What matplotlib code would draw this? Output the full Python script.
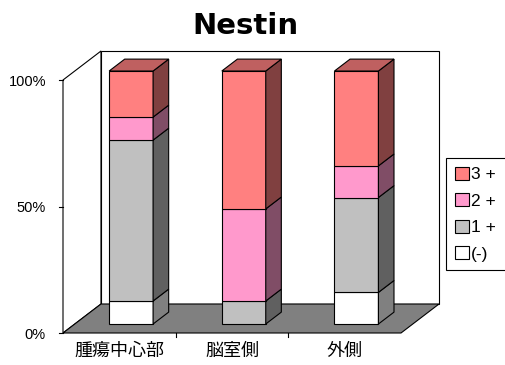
import matplotlib
matplotlib.use("Agg")
import matplotlib.pyplot as plt
from matplotlib.patches import Polygon, Patch
from matplotlib.colors import to_rgb

# ---------------- data ----------------
categories = ["腫瘍中心部", "脳室側", "外側"]
series_labels = ["(-)", "1 +", "2 +", "3 +"]
neg = [9.1, 0.0, 12.5]
plus1 = [63.6, 9.1, 37.5]
plus2 = [9.1, 36.4, 12.5]
plus3 = [18.2, 54.5, 37.5]
yticks = [0, 50, 100]
ytick_labels = ["0%", "50%", "100%"]
title = "Nestin"

front_colors = ["#FFFFFF", "#C0C0C0", "#FF99CC", "#FF8080"]

def shade(c, f):
    r, g, b = to_rgb(c)
    return (r * f, g * f, b * f)

plt.rcParams['font.family'] = ['Noto Sans CJK JP', 'DejaVu Sans']

W, H = 505, 365
fig = plt.figure(figsize=(W / 100, H / 100), dpi=100)
ax = fig.add_axes([0, 0, 1, 1])
x0px, y0px = 63, 333
xu = 338 / 3
yu = 253 / 100
ax.set_xlim(-x0px / xu, (W - x0px) / xu)
ax.set_ylim((y0px - H) / yu, y0px / yu)
ax.axis('off')

ncat = len(categories)
ymax = yticks[-1]
DX = 38 / xu
DY = 29 / yu
lw = 0.8

# walls and floor
ax.add_patch(Polygon([(0, 0), (DX, DY), (DX, ymax + DY), (0, ymax)],
                     closed=True, fc='white', ec='black', lw=lw, zorder=1))
ax.add_patch(Polygon([(DX, DY), (ncat + DX, DY), (ncat + DX, ymax + DY), (DX, ymax + DY)],
                     closed=True, fc='white', ec='black', lw=lw, zorder=1))
ax.add_patch(Polygon([(0, 0), (ncat, 0), (ncat + DX, DY), (DX, DY)],
                     closed=True, fc='#808080', ec='black', lw=lw, zorder=2))

# ticks
for v in yticks:
    ax.plot([0, -4 / xu], [v, v], color='black', lw=lw, zorder=2)
for i in range(1, ncat):
    ax.plot([i, i], [0, -4 / yu], color='black', lw=lw, zorder=2)

# bars
d1, d2 = 0.31, 0.72
bw = 0.39
ddx = (d2 - d1) * DX
ddy = (d2 - d1) * DY
series = [neg, plus1, plus2, plus3]
for i in range(ncat):
    left = i + 0.5 - bw / 2 + d1 * DX
    right = left + bw
    s = d1 * DY
    base = 0.0
    segs = []
    for k, ser in enumerate(series):
        v = ser[i]
        if v > 0:
            segs.append((base, base + v, front_colors[k]))
        base += v
    for j, (b, t, c) in enumerate(segs):
        ax.add_patch(Polygon([(left, b + s), (right, b + s), (right, t + s), (left, t + s)],
                             closed=True, fc=c, ec='black', lw=lw, zorder=3))
        ax.add_patch(Polygon([(right, b + s), (right + ddx, b + s + ddy),
                              (right + ddx, t + s + ddy), (right, t + s)],
                             closed=True, fc=shade(c, 0.5), ec='black', lw=lw, zorder=3))
        if j == len(segs) - 1:
            ax.add_patch(Polygon([(left, t + s), (right, t + s),
                                  (right + ddx, t + s + ddy), (left + ddx, t + s + ddy)],
                                 closed=True, fc=shade(c, 0.75), ec='black', lw=lw, zorder=3))

# tick labels
for v, lab in zip(yticks, ytick_labels):
    ax.annotate(lab, xy=(0, v), xytext=(-17, -2), textcoords='offset pixels',
                ha='right', va='center', fontsize=10.5, family=['Liberation Sans'])
for i, lab in enumerate(categories):
    ax.annotate(lab, xy=(i + 0.5, 0), xytext=(0, -18), textcoords='offset pixels',
                ha='center', va='center', fontsize=13)

fig.text(245 / W, 1 - 26 / H, title, ha='center', va='center', fontsize=21,
         fontweight='bold', family=['DejaVu Sans'])

handles = [Patch(fc=front_colors[k], ec='black', lw=lw) for k in range(3, -1, -1)]
labels = [series_labels[k] for k in range(3, -1, -1)]
leg = fig.legend(handles, labels, loc='upper left',
                 bbox_to_anchor=(446 / W, 1 - 266 / H, 80 / W, 108 / H),
                 mode='expand', borderaxespad=0, fancybox=False,
                 edgecolor='black', framealpha=1,
                 handlelength=0.85, handleheight=0.8, handletextpad=0.1,
                 labelspacing=0.62, borderpad=0.5,
                 prop={'family': ['Liberation Sans'], 'size': 12.5})
leg.get_frame().set_linewidth(lw)

fig.savefig('out.png', dpi=100)
